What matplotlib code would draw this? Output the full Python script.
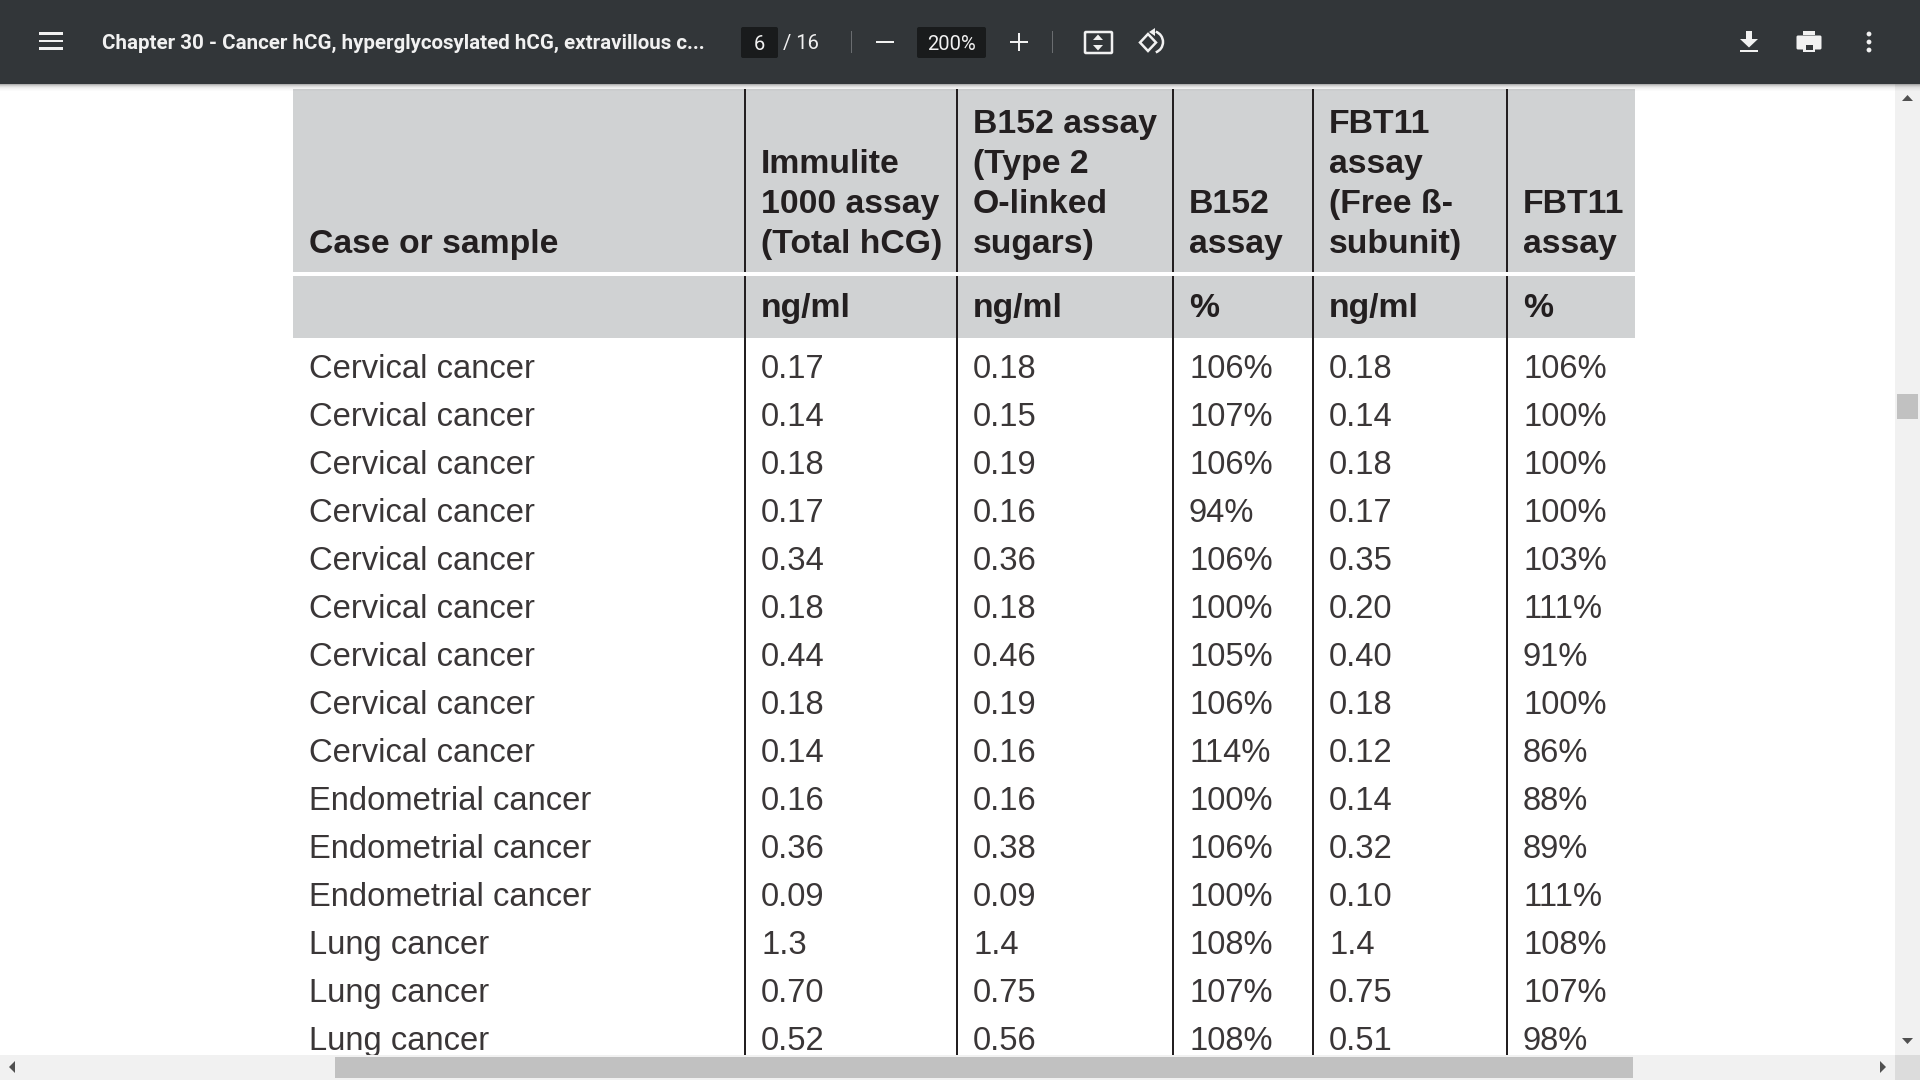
import matplotlib
matplotlib.use("Agg")
import matplotlib.pyplot as plt
from matplotlib.patches import Rectangle, Circle, Polygon, Arc, FancyBboxPatch

# ---------- data ----------
title = "Chapter 30 - Cancer hCG, hyperglycosylated hCG, extravillous c..."
page_no = "6"
page_total = "/ 16"
zoom_label = "200%"
header_lines = [
    ["Case or sample"],
    ["Immulite", "1000 assay", "(Total hCG)"],
    ["B152 assay", "(Type 2", "O-linked", "sugars)"],
    ["B152", "assay"],
    ["FBT11", "assay", "(Free ß-", "subunit)"],
    ["FBT11", "assay"],
]
units = ["", "ng/ml", "ng/ml", "%", "ng/ml", "%"]
cases = ["Cervical cancer"] * 9 + ["Endometrial cancer"] * 3 + ["Lung cancer"] * 3
immulite = ["0.17", "0.14", "0.18", "0.17", "0.34", "0.18", "0.44", "0.18", "0.14",
            "0.16", "0.36", "0.09", "1.3", "0.70", "0.52"]
b152 = ["0.18", "0.15", "0.19", "0.16", "0.36", "0.18", "0.46", "0.19", "0.16",
        "0.16", "0.38", "0.09", "1.4", "0.75", "0.56"]
b152_pct = ["106%", "107%", "106%", "94%", "106%", "100%", "105%", "106%", "114%",
            "100%", "106%", "100%", "108%", "107%", "108%"]
fbt11 = ["0.18", "0.14", "0.18", "0.17", "0.35", "0.20", "0.40", "0.18", "0.12",
         "0.14", "0.32", "0.10", "1.4", "0.75", "0.51"]
fbt11_pct = ["106%", "100%", "100%", "100%", "103%", "111%", "91%", "100%", "86%",
             "88%", "89%", "111%", "108%", "107%", "98%"]
columns = [cases, immulite, b152, b152_pct, fbt11, fbt11_pct]

# ---------- layout (pixels) ----------
W, H = 1920, 1080
TOOLBAR = "#323639"
BOX = "#191b1c"
GREY = "#d0d2d3"
INK = "#231f20"
col_text_x = [309, 761, 973, 1189, 1329, 1523]
rule_x = [745, 957, 1173, 1313, 1507]
TL, TR = 293, 1635
BODY_FS = 23.6
HEAD_FS = 24.3

fig = plt.figure(figsize=(W / 100, H / 100), dpi=100, facecolor="white")
ax = fig.add_axes([0, 0, 1, 1])
ax.set_xlim(0, W)
ax.set_ylim(H, 0)
ax.axis("off")


def rect(x0, y0, x1, y1, color, z=1, alpha=None):
    ax.add_patch(Rectangle((x0, y0), x1 - x0, y1 - y0, fc=color, ec="none", zorder=z, alpha=alpha))


# table shading and rules
rect(TL, 89, TR, 272, GREY)
rect(TL, 276, TR, 338, GREY)
for x in rule_x:
    rect(x - 1.25, 89, x + 1.25, 272, INK, 2)
    rect(x - 1.25, 276, x + 1.25, 1056, INK, 2)

# header text
for x, lines in zip(col_text_x, header_lines):
    base = 253 - 40 * (len(lines) - 1)
    for k, s in enumerate(lines):
        ax.text(x, base + 40 * k, s, fontsize=HEAD_FS, fontweight="bold", family="Liberation Sans",
                color=INK, va="baseline", ha="left", zorder=3)
for x, s in zip(col_text_x, units):
    ax.text(x, 317, s, fontsize=HEAD_FS, fontweight="bold", family="Liberation Sans",
            color=INK, va="baseline", ha="left", zorder=3)

# body text
for x, col in zip(col_text_x, columns):
    for i, s in enumerate(col):
        ax.text(x, 378.3 + 47.95 * i, s, fontsize=BODY_FS, family="Liberation Sans",
                color="#3a3637", va="baseline", ha="left", zorder=3)

# scrollbars
rect(1895, 84, W, H, "#f1f1f1", 5)
rect(0, 1055, W, H, "#f1f1f1", 5)
rect(1895, 1055, W, H, "#dcdcdc", 6)
rect(335, 1057, 1633, 1078, "#c1c1c1", 6)
rect(1897, 394, 1918, 419, "#c1c1c1", 6)
for pts in [[(1902, 101), (1913, 101), (1907.5, 95)],
            [(1902, 1038), (1913, 1038), (1907.5, 1044)],
            [(15, 1061), (15, 1073), (9, 1067)],
            [(1880, 1061), (1880, 1073), (1886, 1067)]]:
    ax.add_patch(Polygon(pts, fc="#505050", ec="none", zorder=7))

# toolbar shadow and body
for k, a in enumerate([0.30, 0.20, 0.13, 0.08, 0.05, 0.03, 0.015]):
    rect(0, 84 + k, W, 85 + k, "#000000", 8, a)
rect(0, 0, W, 84, TOOLBAR, 9)

# toolbar widgets
WHITE = "#f1f1f1"
for y in (33.5, 41, 48.5):
    rect(39, y - 1.4, 63, y + 1.4, WHITE, 10)
ax.text(102, 41.5, title, fontsize=14.8, family="Roboto", fontweight="bold", color=WHITE,
        va="center_baseline", ha="left", zorder=10)
for x0, x1 in [(741, 778), (917, 986)]:
    ax.add_patch(FancyBboxPatch((x0 + 2, 29), x1 - x0 - 4, 27, boxstyle="round,pad=2",
                                fc=BOX, ec="none", zorder=10))
ax.text(759.5, 42, page_no, fontsize=14.5, family="Roboto", color=WHITE, va="center_baseline",
        ha="center", zorder=11)
ax.text(783, 41, page_total, fontsize=14.5, family="Roboto", color=WHITE, va="center_baseline",
        ha="left", zorder=11)
ax.text(951.5, 42, zoom_label, fontsize=14.5, family="Roboto", color=WHITE, va="center_baseline",
        ha="center", zorder=11)
for x in (851, 1052):
    rect(x - 0.5, 31, x + 0.5, 53, "#6a6d70", 10)
rect(876, 41, 894, 43.4, WHITE, 10)
rect(1010, 41, 1028, 43.4, WHITE, 10)
rect(1017.8, 33, 1020.2, 51, WHITE, 10)

# fit-to-page icon
ax.add_patch(FancyBboxPatch((1086, 33), 25, 19, boxstyle="round,pad=1", fc="none", ec=WHITE,
                            lw=1.8, zorder=10))
ax.add_patch(Polygon([(1093, 40), (1103, 40), (1098, 34.5)], fc=WHITE, ec="none", zorder=10))
ax.add_patch(Polygon([(1093, 45), (1103, 45), (1098, 50.5)], fc=WHITE, ec="none", zorder=10))

# rotate icon
ax.add_patch(Polygon([(1140, 42.5), (1148, 34), (1156, 42.5), (1148, 51)], fc="none", ec=WHITE,
                     lw=1.8, zorder=10))
ax.add_patch(Arc((1152, 42), 22, 22, theta1=-70, theta2=70, ec=WHITE, lw=1.8, zorder=10))
ax.add_patch(Polygon([(1155, 28), (1155, 36), (1149, 32)], fc=WHITE, ec="none", zorder=10))

# download icon
rect(1740, 49.5, 1758, 52, WHITE, 10)
rect(1746, 31, 1752, 39, WHITE, 10)
ax.add_patch(Polygon([(1740, 39), (1758, 39), (1749, 47.5)], fc=WHITE, ec="none", zorder=10))

# print icon
ax.add_patch(FancyBboxPatch((1798, 37), 22, 11, boxstyle="round,pad=1.5", fc=WHITE, ec="none", zorder=10))
rect(1803, 31, 1815, 35, WHITE, 10)
rect(1803, 43, 1815, 52, WHITE, 11)
rect(1805.5, 45, 1812.5, 50, TOOLBAR, 12)

# menu dots
for y in (34, 42, 50):
    ax.add_patch(Circle((1869, y), 2.4, fc=WHITE, ec="none", zorder=10))

fig.savefig("out.png", dpi=100, facecolor="white")
